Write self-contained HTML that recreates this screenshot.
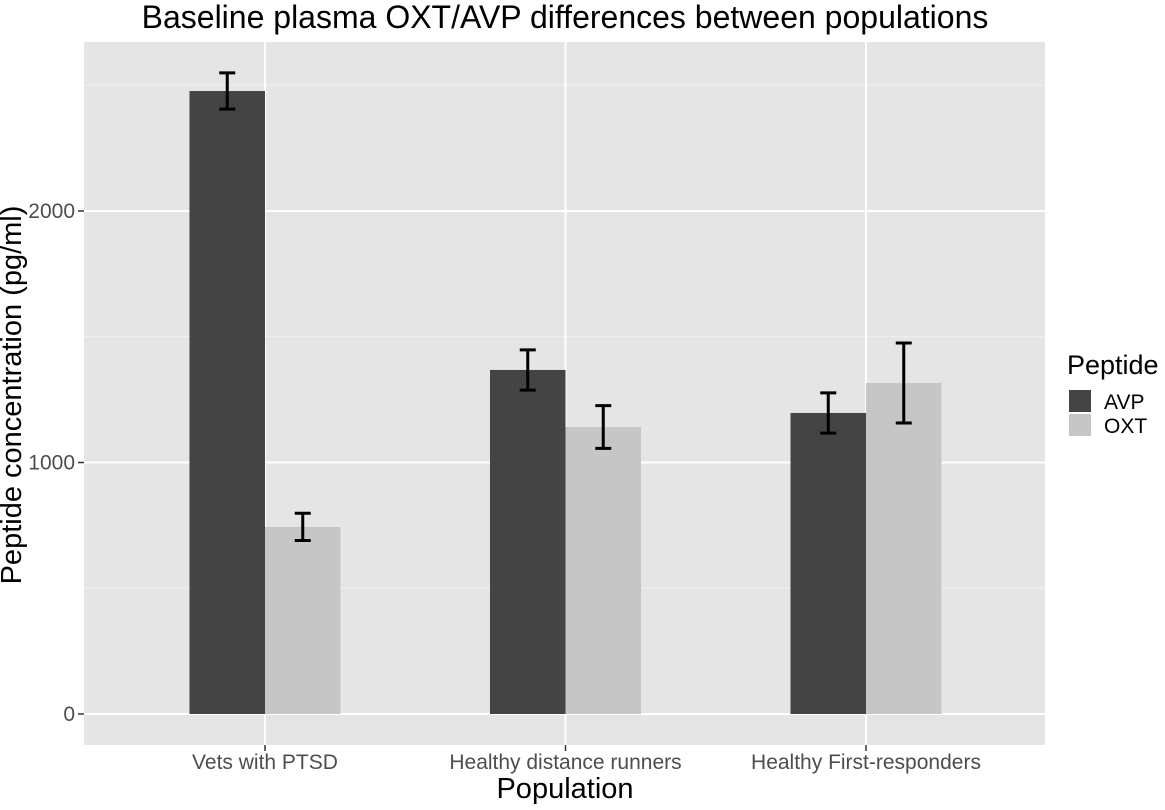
<!DOCTYPE html>
<html><head><meta charset="utf-8"><style>
body{margin:0;background:#fff;}
svg{display:block;font-family:"Liberation Sans",Arial,sans-serif;}
</style></head><body>
<svg id="chart" width="1165" height="810">
<rect x="0" y="0" width="1165" height="810" fill="#fff"/>
<rect x="84" y="42" width="961" height="703" fill="#e5e5e5"/>
<g id="grid"></g>
<g id="bars"></g>
<g id="errs"></g>
<g id="axes"></g>
<text x="565" y="28" text-anchor="middle" font-size="32" fill="#000">Baseline plasma OXT/AVP differences between populations</text>
<text x="565" y="798" text-anchor="middle" font-size="29" fill="#000">Population</text>
<text transform="translate(21,395) rotate(-90)" text-anchor="middle" font-size="29" fill="#000">Peptide concentration (pg/ml)</text>
<g>
<text x="1067" y="374" font-size="27" fill="#000">Peptide</text>
<rect x="1069" y="390" width="22" height="22" fill="#444"/>
<text x="1104" y="409" font-size="21" fill="#000">AVP</text>
<rect x="1069" y="414" width="22" height="22" fill="#c6c6c6"/>
<text x="1104" y="433" font-size="21" fill="#000">OXT</text>
</g>
</svg>
<script>
const categories=["Vets with PTSD","Healthy distance runners","Healthy First-responders"];
const avpValues=[2477,1368,1197];
const avpErrors=[72,80,80];
const oxtValues=[744,1141,1316];
const oxtErrors=[54,85,159];
const yTicks=[0,1000,2000];
const yMinor=[500,1500,2500];

const NS="http://www.w3.org/2000/svg";
const y0=714, pxPer=0.2515;
function y(v){return y0-v*pxPer;}
function xc(i){return 265+i*300.5;}
const bw=75.5;
function mk(tag,attrs,parent){const e=document.createElementNS(NS,tag);for(const k in attrs)e.setAttribute(k,attrs[k]);document.getElementById(parent).appendChild(e);return e;}

yMinor.forEach(v=>{
  const l=mk('line',{x1:84,x2:1045,y1:y(v),y2:y(v),stroke:'#f2f2f2','stroke-width':1},'grid');
  
  
});
yTicks.forEach(v=>{
  const l=mk('line',{x1:84,x2:1045,y1:y(v),y2:y(v),stroke:'#fff','stroke-width':2},'grid');
  
  
  const t=mk('line',{x1:78,x2:84,y1:y(v),y2:y(v),stroke:'#333','stroke-width':1.5},'axes');
  
  
  const tx=mk('text',{x:75,y:y(v)+7,'text-anchor':'end','font-size':21,fill:'#4d4d4d'},'axes');
  tx.textContent=v;
  
  
});
categories.forEach((c,i)=>{
  const g=mk('line',{x1:xc(i),x2:xc(i),y1:42,y2:745,stroke:'#fff','stroke-width':2},'grid');
  
  
  const t=mk('line',{x1:xc(i),x2:xc(i),y1:745,y2:751,stroke:'#333','stroke-width':1.5},'axes');
  
  
  const tx=mk('text',{x:xc(i),y:769,'text-anchor':'middle','font-size':21,fill:'#4d4d4d'},'axes');
  tx.textContent=c;
  
  
  [[avpValues,avpErrors,'#444',-1,'avp'],[oxtValues,oxtErrors,'#c6c6c6',0,'oxt']].forEach(([vals,errs,col,off,nm])=>{
    const v=vals[i], x=xc(i)+off*bw;
    const r=mk('rect',{x:x,y:y(v),width:bw,height:y(0)-y(v),fill:col},'bars');
    
    
    const cx=x+bw/2, hi=y(v+errs[i]), lo=y(v-errs[i]);
    const p=mk('path',{d:`M${cx-8},${hi}H${cx+8}M${cx},${hi}V${lo}M${cx-8},${lo}H${cx+8}`,stroke:'#000','stroke-width':3,fill:'none'},'errs');
    
    
  });
});
</script>
</body></html>
